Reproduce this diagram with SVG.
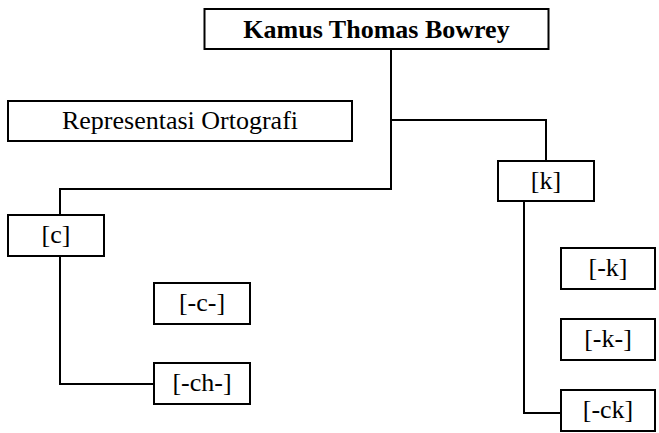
<svg xmlns="http://www.w3.org/2000/svg" width="659" height="433" viewBox="0 0 659 433">
<style>
  .box { fill: #ffffff; stroke: #000000; stroke-width: 2; }
  .conn { fill: none; stroke: #000000; stroke-width: 2; }
</style>
<rect width="659" height="433" fill="#ffffff"/>
<g id="connectors">
  <path class="conn" d="M391 50 V189 H60 V214"/>
  <path class="conn" d="M391 120 H546 V160"/>
  <path class="conn" d="M60 257 V384 H153"/>
  <path class="conn" d="M524 202 V413 H560"/>
</g>
<g font-family="Liberation Serif, Times New Roman, serif" font-size="26" fill="#000000" text-anchor="middle">
<g id="node-kamus">
  <rect class="box" x="204.5" y="9" width="344" height="40"/>
  <text x="376.5" y="38" font-weight="bold">Kamus Thomas Bowrey</text>
</g>
<g id="node-representasi">
  <rect class="box" x="8" y="101" width="344" height="40"/>
  <text x="180" y="129">Representasi Ortografi</text>
</g>
<g id="node-c">
  <rect class="box" x="8" y="215" width="96" height="41"/>
  <text x="56" y="243">[c]</text>
</g>
<g id="node-k">
  <rect class="box" x="498" y="161" width="96" height="40"/>
  <text x="546" y="189">[k]</text>
</g>
<g id="node-c-mid">
  <rect class="box" x="154" y="283" width="96" height="41"/>
  <text x="202" y="311">[-c-]</text>
</g>
<g id="node-ch-mid">
  <rect class="box" x="154" y="363" width="96" height="41"/>
  <text x="202" y="391">[-ch-]</text>
</g>
<g id="node-k-final">
  <rect class="box" x="561" y="248" width="94" height="41"/>
  <text x="608" y="276">[-k]</text>
</g>
<g id="node-k-mid">
  <rect class="box" x="561" y="319" width="94" height="41"/>
  <text x="608" y="347">[-k-]</text>
</g>
<g id="node-ck-final">
  <rect class="box" x="561" y="390" width="94" height="41"/>
  <text x="608" y="418">[-ck]</text>
</g>
</g>
</svg>
